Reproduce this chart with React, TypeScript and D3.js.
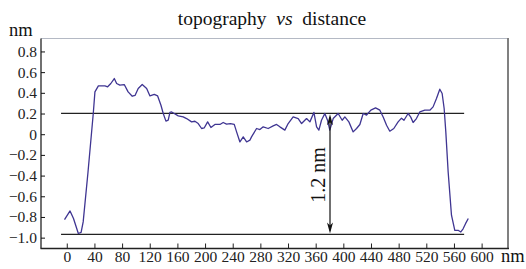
import { useRef, useEffect } from "react";
import * as d3 from "d3";

// traced profile (nm vs nm)
const DISTANCE = [
  -4, 4, 9, 16, 20, 23, 30, 37.6, 40, 45, 54.5, 58.4, 63, 68, 71.4, 76, 82.4, 88, 94, 98,
  102.6, 108.4, 114.8, 119.6, 125.8, 130.7, 135.5, 138.8, 142.7, 146, 148.5, 151, 154.7,
  160.5, 167.7, 172.6, 179.8, 184.6, 189.4, 194.3, 198, 203, 207.8, 213.5, 220.8, 225.5,
  230.4, 236, 241.5, 244.9, 249.7, 254.5, 259.4, 264.1, 266.5, 273.8, 278.6, 283.4, 290.6,
  297.8, 302.7, 307.5, 314.7, 319.5, 326.7, 334, 338.9, 346.1, 350.9, 356.7, 360.6, 363.9,
  367.7, 372.5, 376.4, 379.7, 384.6, 391.8, 397.6, 401.5, 407.3, 413.5, 418.4, 423.2, 428,
  432.9, 439.1, 445.9, 452.1, 456.9, 461.8, 466.5, 472.3, 478.5, 483.4, 487, 493, 496.8,
  500.2, 505, 509.9, 517.1, 524.4, 529.1, 534, 538.8, 542.2, 545.1, 547.5, 550.9, 555.7,
  560.5, 565.3, 569.2, 572.5, 576, 580,
];
const HEIGHT = [
  -0.82, -0.737, -0.81, -0.955, -0.945, -0.843, -0.36, 0.205, 0.414, 0.472, 0.472, 0.463,
  0.495, 0.543, 0.495, 0.479, 0.485, 0.414, 0.372, 0.38, 0.447, 0.485, 0.447, 0.375, 0.389,
  0.375, 0.285, 0.205, 0.131, 0.14, 0.215, 0.22, 0.205, 0.182, 0.172, 0.156, 0.124, 0.13,
  0.108, 0.06, 0.065, 0.124, 0.07, 0.099, 0.099, 0.118, 0.102, 0.108, 0.1, 0.027, -0.07,
  -0.021, -0.07, -0.053, -0.021, 0.06, 0.05, 0.076, 0.06, 0.085, 0.099, 0.076, 0.044, 0.108,
  0.172, 0.156, 0.108, 0.156, 0.124, 0.215, 0.076, 0.044, 0.14, 0.205, 0.14, 0.044, 0.156,
  0.205, 0.14, 0.172, 0.124, 0.027, 0.06, 0.099, 0.205, 0.19, 0.237, 0.26, 0.237, 0.172,
  0.092, 0.034, 0.06, 0.124, 0.16, 0.14, 0.205, 0.17, 0.118, 0.156, 0.22, 0.237, 0.237,
  0.269, 0.35, 0.44, 0.398, 0.253, 0.027, -0.36, -0.778, -0.924, -0.924, -0.94, -0.91, -0.86,
  -0.81,
];

const X_TICKS = d3.range(0, 601, 40);
const Y_TICKS = [-1.0, -0.8, -0.6, -0.4, -0.2, 0, 0.2, 0.4, 0.6, 0.8];

// reference levels and the step between them
const LEVEL_TOP = 0.207;
const LEVEL_BOTTOM = -0.964;
const LEVEL_SPAN = [-9, 574];
const STEP_AT = 380;
const STEP_LABEL = "1.2 nm";

const W = 526;
const H = 269;
const FONT = "Liberation Serif, Times New Roman, DejaVu Serif, serif";

export default function App() {
  const svgRef = useRef<SVGSVGElement>(null);

  useEffect(() => {
    if (!svgRef.current) return;
    const svg = d3.select(svgRef.current);
    svg.selectAll("*").remove();

    const left = 41;
    const right = 507;
    const top = 38.5;
    const bottom = 248.5;

    const x = d3.scaleLinear().domain([-38, 636]).range([left, right]);
    const y = d3.scaleLinear().domain([-1.1, 0.93]).range([bottom, top]);

    // frame
    svg.append("line")
      .attr("x1", left).attr("x2", right + 1)
      .attr("y1", top).attr("y2", top)
      .attr("stroke", "#b4b9c4").attr("stroke-width", 1);
    svg.append("line")
      .attr("x1", right + 1).attr("x2", right + 1)
      .attr("y1", top - 0.5).attr("y2", bottom)
      .attr("stroke", "#808080").attr("stroke-width", 2);

    // y axis
    const yAxis = svg.append("g").attr("transform", `translate(${left},0)`);
    yAxis.append("line")
      .attr("x1", 0).attr("x2", 0).attr("y1", top).attr("y2", bottom)
      .attr("stroke", "#111").attr("stroke-width", 1.2);
    yAxis.selectAll(".ytick")
      .data(Y_TICKS)
      .enter()
      .append("line")
      .attr("x1", 0).attr("x2", 4)
      .attr("y1", (d) => y(d)).attr("y2", (d) => y(d))
      .attr("stroke", "#111").attr("stroke-width", 1);
    yAxis.selectAll(".ylabel")
      .data(Y_TICKS)
      .enter()
      .append("text")
      .attr("x", -4)
      .attr("y", (d) => y(d) + 5)
      .attr("text-anchor", "end")
      .style("font-family", FONT)
      .attr("font-size", "15.5px")
      .attr("fill", "#222")
      .text((d) => (d === 0 ? "0" : d3.format(".1f")(d)));

    // x axis
    const xAxis = svg.append("g").attr("transform", `translate(0,${bottom})`);
    xAxis.append("line")
      .attr("x1", left - 0.5).attr("x2", right + 2).attr("y1", 0).attr("y2", 0)
      .attr("stroke", "#222").attr("stroke-width", 1.6);
    xAxis.selectAll(".xtick")
      .data(X_TICKS)
      .enter()
      .append("line")
      .attr("x1", (d) => x(d)).attr("x2", (d) => x(d))
      .attr("y1", 0).attr("y2", -5)
      .attr("stroke", "#222").attr("stroke-width", 1);
    xAxis.selectAll(".xlabel")
      .data(X_TICKS)
      .enter()
      .append("text")
      .attr("x", (d) => x(d))
      .attr("y", 13)
      .attr("text-anchor", "middle")
      .style("font-family", FONT)
      .attr("font-size", "15.5px")
      .attr("fill", "#222")
      .text((d) => String(d));

    // units
    svg.append("text")
      .attr("x", 9).attr("y", 36)
      .style("font-family", FONT).attr("font-size", "18.5px").attr("fill", "#111")
      .text("nm");
    svg.append("text")
      .attr("x", 501).attr("y", 262)
      .style("font-family", FONT).attr("font-size", "18.5px").attr("fill", "#111")
      .text("nm");

    // title
    const title = svg.append("text")
      .attr("x", 272).attr("y", 25)
      .attr("text-anchor", "middle")
      .style("font-family", FONT).attr("font-size", "19.5px").attr("fill", "#111")
      .style("white-space", "pre");
    title.append("tspan").text("topography  ");
    title.append("tspan").attr("font-style", "italic").text("vs");
    title.append("tspan").text("  distance");

    // reference levels
    svg.selectAll(".level")
      .data([LEVEL_TOP, LEVEL_BOTTOM])
      .enter()
      .append("line")
      .attr("x1", x(LEVEL_SPAN[0])).attr("x2", x(LEVEL_SPAN[1]))
      .attr("y1", (d) => y(d)).attr("y2", (d) => y(d))
      .attr("stroke", "#222").attr("stroke-width", 1.3);

    // profile
    const points: [number, number][] = DISTANCE.map((d, i) => [d, HEIGHT[i]]);
    const line = d3.line<[number, number]>()
      .x((d) => x(d[0]))
      .y((d) => y(d[1]));
    svg.append("path")
      .datum(points)
      .attr("d", line)
      .attr("fill", "none")
      .attr("stroke", "#3f3592")
      .attr("stroke-width", 1.3)
      .attr("stroke-linejoin", "round");

    // step arrow
    const ax = x(STEP_AT);
    const y1 = y(LEVEL_TOP);
    const y2 = y(LEVEL_BOTTOM);
    svg.append("line")
      .attr("x1", ax).attr("x2", ax)
      .attr("y1", y1 + 4).attr("y2", y2 - 4)
      .attr("stroke", "#111").attr("stroke-width", 1.2);
    svg.append("path")
      .attr("d", `M${ax},${y1 + 1}L${ax - 3},${y1 + 12}L${ax},${y1 + 9}L${ax + 3},${y1 + 12}Z`)
      .attr("fill", "#111");
    svg.append("path")
      .attr("d", `M${ax},${y2 - 1}L${ax - 3},${y2 - 12}L${ax},${y2 - 9}L${ax + 3},${y2 - 12}Z`)
      .attr("fill", "#111");
    svg.append("text")
      .attr("transform", `translate(${ax - 5},${(y1 + y2) / 2 + 1}) rotate(-90)`)
      .attr("text-anchor", "middle")
      .style("font-family", FONT).attr("font-size", "20px").attr("fill", "#111")
      .text(STEP_LABEL);
  }, []);

  return (
    <svg
      ref={svgRef}
      width={W}
      height={H}
      style={{ position: "absolute", left: 0, top: 0, background: "#fff" }}
    />
  );
}
